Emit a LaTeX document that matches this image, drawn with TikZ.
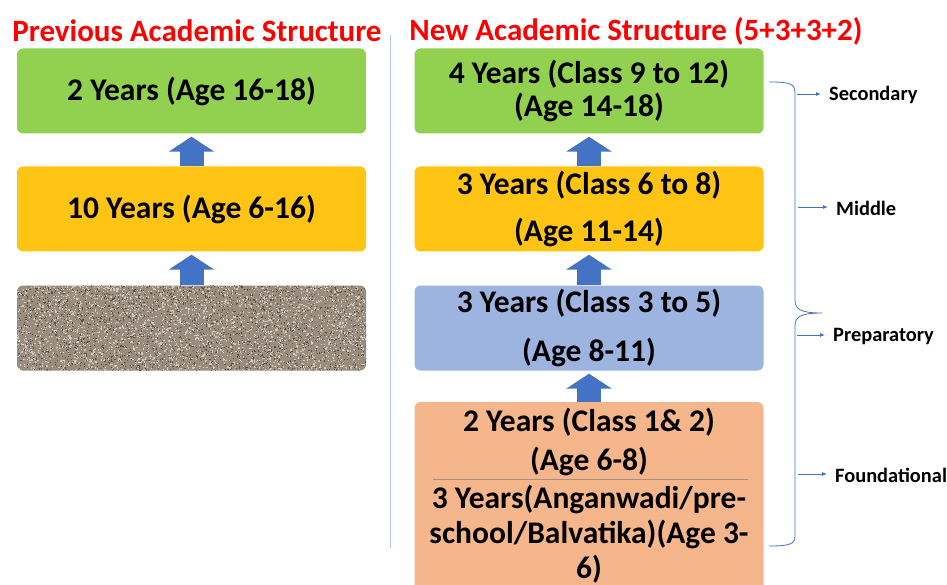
\documentclass[tikz,border=0pt]{standalone}
\usepackage{fontspec}
\setmainfont{Carlito}
\usetikzlibrary{arrows.meta,calc}
\definecolor{boxgreen}{HTML}{92D050}
\definecolor{boxyellow}{HTML}{FFC414}
\definecolor{boxblue}{HTML}{9DB3E0}
\definecolor{boxorange}{HTML}{F4B68A}
\definecolor{arrblue}{HTML}{4472C4}
\definecolor{sepline}{HTML}{B4C7E7}
\definecolor{granite}{HTML}{9A8D80}
\definecolor{granlight}{HTML}{CFC6BB}
\definecolor{grandark}{HTML}{5C5148}
\tikzset{
  stagebox/.style={rounded corners=6pt, minimum width=349pt, minimum height=85pt,
    inner sep=0pt, align=center, font=\fontsize{31.5}{33}\selectfont\bfseries},
  titletext/.style={text=red, font=\fontsize{31}{34}\selectfont\bfseries, inner sep=0pt},
  blockup/.style={arrblue, line width=24pt, shorten >=3pt,
    -{Triangle[width=45pt,length=15pt]}},
  stagelabel/.style={anchor=west, inner sep=0pt, font=\fontsize{20.4}{23}\selectfont\bfseries},
  braceline/.style={arrblue, line width=0.8pt},
  labelarrow/.style={arrblue, line width=0.8pt, -{Latex[length=5pt,width=4pt]}},
}
\begin{document}
\begin{tikzpicture}[x=1pt,y=-1pt]
\useasboundingbox (0,0) rectangle (947,585);
\clip (0,0) rectangle (947,585);
\fill[white] (0,0) rectangle (947,585);

% titles
\node[titletext] (ptitle) at (197,31) {Previous Academic Structure};
\node[titletext] (ntitle) at (636,31) {New Academic Structure (5+3+3+2)};

% separator
\coordinate (septop) at (390,35);
\coordinate (sepbot) at (390,548);
\draw[sepline, line width=0.8pt] (septop) -- (sepbot);

% previous structure
\node[stagebox, fill=boxgreen] (pg) at (191.5,91) {2 Years (Age 16-18)};
\node[stagebox, fill=boxyellow] (py) at (191.5,209) {10 Years (Age 6-16)};
\node[stagebox, fill=granite] (pt) at (191.5,328) {};
\begin{scope}
  \clip[rounded corners=6pt] (pt.north west) rectangle (pt.south east);
  \pgfmathsetseed{7}
  \foreach \i in {1,...,2200} {
    \fill[granlight] ({17+349*rnd},{285+86*rnd}) rectangle +(1.3,1.3);
    \fill[grandark] ({17+349*rnd},{285+86*rnd}) rectangle +(1.1,1.1);
  }
  \foreach \i in {1,...,700} {
    \fill[white!70!granite] ({17+349*rnd},{285+86*rnd}) rectangle +(1,1);
  }
\end{scope}
\draw[blockup] (py.north) -- (pg.south);
\draw[blockup] (pt.north) -- (py.south);

% new structure
\node[stagebox, fill=boxgreen] (ng) at (589,91) {4 Years (Class 9 to 12)\\(Age 14-18)};
\node[stagebox, fill=boxyellow] (ny) at (589,209) {3 Years (Class 6 to 8)\\[14pt](Age 11-14)};
\node[stagebox, fill=boxblue] (nb) at (589,328) {3 Years (Class 3 to 5)\\[16pt](Age 8-11)};
\node[rounded corners=6pt, minimum width=349pt, minimum height=200pt, inner sep=0pt,
  fill=boxorange] (nf) at (589,502) {};
\node[align=center, inner sep=0pt, font=\fontsize{31.5}{39}\selectfont\bfseries]
  (nfa) at (589,442) {2 Years (Class 1\& 2)\\(Age 6-8)};
\node[align=center, inner sep=0pt, font=\fontsize{31.5}{35}\selectfont\bfseries]
  (nfb) at (589,534) {3 Years(Anganwadi/pre-\\school/Balvatika)(Age 3-\\6)};
\coordinate (divl) at (433,479);
\coordinate (divr) at (748,479);
\draw[gray!70!boxorange, line width=0.8pt] (divl) -- (divr);

\draw[blockup] (ny.north) -- (ng.south);
\draw[blockup] (nb.north) -- (ny.south);
\draw[blockup] (nf.north) -- (nb.south);

% brace
\coordinate (bt) at (769,82);
\coordinate (bb) at (769,546);
\coordinate (btip) at (822,313);
\draw[braceline] (bt) .. controls (792,82) and (795,84) .. (795,94)
  -- (795,300) .. controls (795,309) and (800,313) .. (btip)
  .. controls (800,313) and (795,317) .. (795,326)
  -- (795,536) .. controls (795,544) and (790,546) .. (bb);

% labels
\node[stagelabel] (lsec) at (829,95) {Secondary};
\node[stagelabel] (lmid) at (836,208) {Middle};
\node[stagelabel] (lprep) at (833,336) {Preparatory};
\node[stagelabel] (lfound) at (835,475) {Foundational};
\coordinate (asec) at (797,94);
\coordinate (amid) at (798,207);
\coordinate (aprep) at (797,335);
\coordinate (afound) at (798,474);
\draw[labelarrow] (asec) -- ($(lsec.west)+(-8,-1)$);
\draw[labelarrow] (amid) -- ($(lmid.west)+(-8,-1)$);
\draw[labelarrow] (aprep) -- ($(lprep.west)+(-8,-1)$);
\draw[labelarrow] (afound) -- ($(lfound.west)+(-8,-1)$);
\end{tikzpicture}
\end{document}
